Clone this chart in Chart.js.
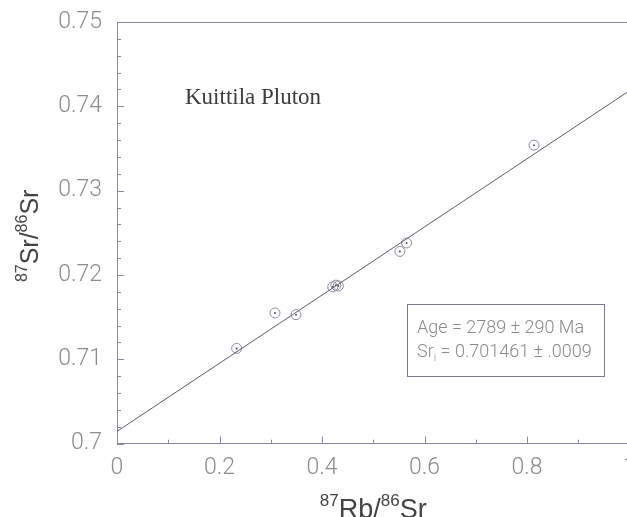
<!DOCTYPE html>
<html>
<head>
<meta charset="utf-8">
<script src="https://cdn.jsdelivr.net/npm/chart.js@4.4.1/dist/chart.umd.min.js"></script>
<style>
  html, body { margin: 0; padding: 0; background: #fff; overflow: hidden; }
  #wrap { width: 680px; height: 517px; }
</style>
</head>
<body>
<div id="wrap"><canvas id="isochron" width="680" height="517"></canvas></div>
<script>
// whole-rock samples: 87Rb/86Sr vs 87Sr/86Sr
const rbSr = [0.2335, 0.3083, 0.3493, 0.421, 0.427, 0.432, 0.552, 0.565, 0.8137];
const srSr = [0.7113, 0.7155, 0.7153, 0.7186, 0.7188, 0.7187, 0.7228, 0.7238, 0.7354];

const xTicks = [0, 0.2, 0.4, 0.6, 0.8, 1];
const yTicks = [0.7, 0.71, 0.72, 0.73, 0.74, 0.75];

// isochron result
const ageMa = 2789;
const ageErr = 290;
const srInitial = 0.701461;
const srInitialErr = 0.0009;
const lambdaRb = 1.42e-11;
const slope = Math.expm1(lambdaRb * ageMa * 1e6);

const samples = rbSr.map((x, i) => ({ x, y: srSr[i] }));
const isochron = [
  { x: xTicks[0], y: srInitial + slope * xTicks[0] },
  { x: xTicks[xTicks.length - 1], y: srInitial + slope * xTicks[xTicks.length - 1] }
];

const axisColor = '#8a88a6';
const lightFamily = 'Roboto, "Liberation Sans", Arial, sans-serif';
const tickFont = { family: lightFamily, size: 23, weight: 300 };
const fmt = v => String(Number(v.toFixed(4)));

// draws text runs with superscripts / subscripts, left to right
function drawRuns(ctx, runs, x, y) {
  let cx = x;
  runs.forEach(r => {
    ctx.font = r.font;
    ctx.fillText(r.text, cx, y - (r.rise || 0));
    cx += ctx.measureText(r.text).width;
  });
  return cx - x;
}
function runsWidth(ctx, runs) {
  let w = 0;
  runs.forEach(r => { ctx.font = r.font; w += ctx.measureText(r.text).width; });
  return w;
}

const frame = {
  id: 'frame',
  afterDraw(chart) {
    const { ctx, chartArea: a, scales: { x, y } } = chart;
    ctx.save();
    ctx.strokeStyle = axisColor;
    ctx.lineWidth = 1;
    ctx.beginPath();
    ctx.moveTo(a.left, a.top + 0.5);
    ctx.lineTo(a.right, a.top + 0.5);
    ctx.lineTo(a.right, a.bottom);
    ctx.stroke();

    // inward tick marks
    ctx.beginPath();
    for (let i = 0; i <= 25; i++) {
      const v = 0.7 + i * 0.002;
      const py = Math.round(y.getPixelForValue(v)) + 0.5;
      const len = i % 5 === 0 ? 7 : 4;
      ctx.moveTo(a.left, py); ctx.lineTo(a.left + len, py);
    }
    for (let i = 0; i <= 10; i++) {
      const px = Math.round(x.getPixelForValue(i * 0.1)) + 0.5;
      const len = i % 2 === 0 ? 7 : 4;
      ctx.moveTo(px, a.bottom); ctx.lineTo(px, a.bottom - len);
    }
    ctx.stroke();

    // sample name
    ctx.fillStyle = '#3c3c3c';
    ctx.font = '23px "Liberation Serif", "Times New Roman", serif';
    ctx.textBaseline = 'alphabetic';
    ctx.fillText('Kuittila Pluton', a.left + 68, a.top + 82);

    // result box
    ctx.strokeStyle = '#7c7a92';
    ctx.strokeRect(407.5, 304.5, 197, 72);
    ctx.fillStyle = '#8a8a8a';
    const f = `300 18px ${lightFamily}`;
    const fs = `300 11px ${lightFamily}`;
    drawRuns(ctx, [{ text: `Age = ${ageMa} ± ${ageErr} Ma`, font: f }], 417, 333);
    drawRuns(ctx, [
      { text: 'Sr', font: f },
      { text: 'i', font: fs, rise: -4 },
      { text: ` = ${srInitial} ± ${String(srInitialErr).replace(/^0/, '')}`, font: f }
    ], 417, 357);

    // axis titles
    ctx.fillStyle = '#444';
    const sup = '17px "Liberation Sans", Arial, sans-serif';
    const xTitle = [
      { text: '87', font: sup, rise: 12 }, { text: 'Rb/', font: '27px "Liberation Sans", Arial, sans-serif' },
      { text: '86', font: sup, rise: 12 }, { text: 'Sr', font: '27px "Liberation Sans", Arial, sans-serif' }
    ];
    const big = '25px "Liberation Sans", Arial, sans-serif';
    const ySup = '16px "Liberation Sans", Arial, sans-serif';
    const yTitle = [
      { text: '87', font: ySup, rise: 11 }, { text: 'Sr/', font: big },
      { text: '86', font: ySup, rise: 11 }, { text: 'Sr', font: big }
    ];
    const cx = (a.left + a.right) / 2;
    drawRuns(ctx, xTitle, cx - runsWidth(ctx, xTitle) / 2, 518);

    ctx.translate(38, (a.top + a.bottom) / 2 + 3);
    ctx.rotate(-Math.PI / 2);
    drawRuns(ctx, yTitle, -runsWidth(ctx, yTitle) / 2, 0);
    ctx.restore();
  }
};

new Chart(document.getElementById('isochron'), {
  type: 'scatter',
  data: {
    datasets: [
      {
        data: isochron,
        showLine: true,
        borderColor: '#5c5c6c',
        borderWidth: 1,
        pointRadius: 0
      },
      {
        data: samples,
        pointRadius: 5,
        pointBorderWidth: 1,
        pointBorderColor: '#8c8ca2',
        pointBackgroundColor: 'rgba(0,0,0,0)'
      },
      {
        data: samples,
        pointRadius: 1,
        pointBorderWidth: 0,
        pointBackgroundColor: '#555'
      }
    ]
  },
  options: {
    responsive: false,
    animation: false,
    layout: { padding: { top: 22, right: 50.5, left: 0, bottom: 0 } },
    plugins: { legend: { display: false }, tooltip: { enabled: false } },
    scales: {
      x: {
        type: 'linear',
        min: 0,
        max: 1,
        afterBuildTicks: s => { s.ticks = xTicks.map(v => ({ value: v })); },
        afterFit: s => { s.height = 73.3; },
        grid: { display: false },
        border: { display: true, color: axisColor, width: 1 },
        ticks: { color: '#8c8c8c', font: tickFont, padding: 3, maxRotation: 0, callback: fmt }
      },
      y: {
        type: 'linear',
        min: 0.7,
        max: 0.75,
        afterBuildTicks: s => { s.ticks = yTicks.map(v => ({ value: v })); },
        afterFit: s => { s.width = 117; },
        grid: { display: false },
        border: { display: true, color: axisColor, width: 1 },
        ticks: { color: '#8c8c8c', font: tickFont, padding: 7, callback: fmt }
      }
    }
  },
  plugins: [frame]
});
</script>
</body>
</html>
